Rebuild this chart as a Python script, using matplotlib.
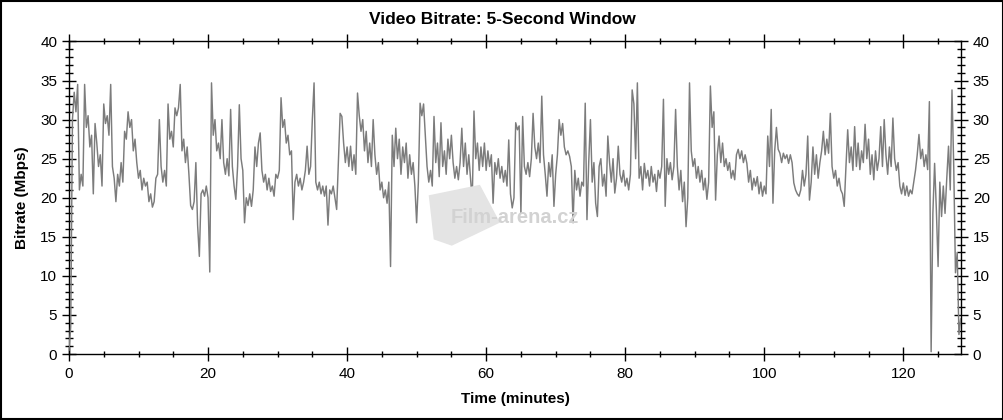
import numpy as np
from matplotlib import pyplot as plt
from matplotlib.patches import Rectangle, Polygon
from matplotlib.ticker import MultipleLocator

plt.rcParams['font.family'] = ['Liberation Sans', 'DejaVu Sans']

# bitrate (Mbps), one value every quarter minute from t = 0 (one row = 5 minutes)
mbps = [
    0.5, 3.5, 30.0, 33.5, 31.0, 34.5, 21.0, 23.0, 21.5, 34.5, 29.0, 30.5, 26.5, 28.0, 20.5, 29.5, 27.0, 24.0, 25.5, 21.5,
    32.0, 29.5, 30.5, 28.0, 34.5, 24.0, 22.5, 19.5, 23.0, 21.5, 24.5, 22.0, 28.5, 27.5, 31.0, 29.0, 30.0, 26.0, 27.5, 24.5,
    22.5, 23.5, 21.0, 22.5, 21.5, 22.0, 19.5, 20.5, 18.8, 19.5, 22.5, 23.0, 30.0, 24.0, 22.0, 23.5, 21.5, 32.0, 27.5, 28.5,
    26.5, 31.5, 30.5, 31.5, 34.5, 26.0, 27.5, 24.5, 26.5, 23.0, 19.0, 18.5, 19.5, 24.5, 16.5, 12.5, 20.5, 21.0, 20.2, 21.5,
    20.0, 10.5, 34.7, 28.0, 30.0, 26.0, 27.0, 25.0, 30.0, 24.5, 23.0, 25.0, 22.8, 31.3, 24.0, 21.5, 19.8, 24.0, 31.9, 25.0,
    23.5, 16.8, 20.0, 19.0, 20.5, 18.9, 21.0, 26.5, 24.0, 27.0, 28.3, 23.5, 22.0, 23.0, 21.0, 22.5, 20.8, 21.5, 20.2, 23.0,
    22.5, 23.5, 32.8, 29.0, 30.0, 27.0, 28.0, 25.5, 26.0, 17.2, 22.0, 23.0, 21.5, 22.5, 21.0, 22.0, 23.5, 26.6, 23.0, 24.0,
    30.0, 34.7, 22.0, 21.0, 22.0, 20.5, 21.5, 20.2, 21.5, 16.5, 21.0, 20.5, 21.5, 20.0, 18.5, 24.5, 30.8, 30.4, 27.0, 24.5,
    26.5, 24.0, 26.6, 23.5, 25.5, 23.0, 33.4, 30.5, 28.5, 30.0, 26.0, 28.5, 24.5, 27.0, 24.0, 30.0, 25.5, 23.0, 24.5, 21.0,
    22.0, 20.0, 21.0, 19.3, 22.0, 11.2, 28.0, 24.0, 28.9, 25.0, 27.5, 23.0, 26.5, 24.5, 27.0, 22.5, 25.5, 23.0, 24.5, 21.5,
    16.8, 22.0, 32.1, 30.5, 32.0, 28.0, 24.0, 22.0, 23.5, 21.5, 30.4, 24.5, 27.0, 22.7, 29.6, 24.0, 26.0, 23.0, 27.5, 25.0,
    28.0, 24.5, 22.5, 24.0, 22.3, 24.5, 28.9, 24.0, 27.0, 23.0, 25.5, 22.5, 19.7, 31.1, 25.0, 27.0, 23.5, 26.5, 24.0, 27.0,
    23.5, 26.0, 24.0, 25.5, 19.3, 24.5, 23.0, 25.0, 22.5, 24.0, 22.0, 23.5, 21.5, 27.4, 20.5, 18.7, 20.0, 29.6, 28.7, 29.2,
    18.0, 30.4, 24.0, 23.0, 24.5, 22.7, 25.0, 30.8, 26.5, 25.0, 27.0, 24.5, 33.0, 25.5, 23.0, 20.2, 24.5, 22.7, 25.5, 18.9,
    23.0, 25.5, 30.0, 28.0, 29.5, 26.5, 25.5, 26.0, 25.3, 24.0, 16.8, 23.5, 21.0, 22.5, 20.2, 22.0, 21.5, 32.1, 17.2, 24.5,
    30.0, 22.0, 24.5, 19.3, 17.6, 24.0, 25.0, 21.5, 23.0, 20.2, 27.9, 24.5, 22.0, 25.0, 20.6, 22.5, 26.6, 23.0, 22.0, 23.5,
    21.5, 22.5, 21.0, 23.0, 33.8, 32.0, 25.0, 34.7, 22.5, 24.0, 21.0, 24.4, 22.5, 23.5, 21.5, 24.0, 22.0, 23.0, 20.8, 23.5,
    22.5, 24.0, 32.6, 18.9, 25.0, 23.0, 24.5, 22.3, 24.0, 31.3, 24.0, 21.0, 23.5, 19.5, 22.0, 16.3, 20.0, 34.7, 26.0, 24.0,
    25.0, 22.5, 24.0, 22.0, 23.5, 21.0, 22.5, 19.8, 22.0, 34.3, 29.0, 31.0, 19.7, 25.5, 27.9, 24.5, 27.0, 24.0, 25.0, 23.5,
    24.5, 22.5, 23.5, 22.3, 25.5, 26.2, 25.0, 26.0, 24.5, 25.5, 24.4, 22.0, 23.5, 21.0, 22.5, 21.5, 22.7, 20.5, 22.0, 20.2,
    21.5, 20.5, 27.9, 24.0, 31.3, 19.3, 26.0, 29.0, 26.2, 25.7, 24.5, 25.7, 25.0, 25.5, 24.4, 25.5, 24.5, 21.9, 21.0, 20.5,
    20.2, 21.0, 23.5, 21.5, 23.0, 27.9, 19.7, 22.0, 26.5, 23.0, 25.5, 22.5, 24.5, 26.0, 28.5, 25.5, 27.5, 25.7, 30.8, 24.0,
    22.5, 23.5, 21.5, 22.5, 21.0, 20.5, 18.9, 24.0, 28.7, 24.5, 26.5, 23.5, 29.1, 24.0, 27.0, 23.6, 26.0, 24.5, 29.4, 25.0,
    27.5, 23.0, 25.5, 22.3, 26.0, 23.5, 25.0, 29.1, 24.0, 30.0, 25.5, 23.0, 26.5, 24.0, 30.2, 25.0, 23.5, 24.5, 21.5, 20.5,
    21.9, 20.3, 21.5, 20.2, 21.0, 20.5, 22.0, 23.5, 25.5, 28.1, 25.0, 26.2, 24.0, 25.5, 23.6, 32.3, 0.3, 18.0, 24.4, 18.5,
    11.2, 22.0, 17.6, 21.5, 18.0, 22.5, 26.6, 21.0, 33.8, 24.0, 10.4, 13.0, 2.5, 4.5,
]
menit = np.arange(len(mbps)) * 0.25

fig = plt.figure(figsize=(10.04, 4.2), dpi=100)
ax = fig.add_axes([0.0687, 0.157, 0.8885, 0.7443])

# watermark
fig.patches.append(Polygon([[0.427, 0.535], [0.478, 0.56], [0.498, 0.47], [0.45, 0.415], [0.432, 0.43]],
                           closed=True, transform=fig.transFigure, facecolor='#e4e4e4',
                           edgecolor='none', zorder=0))
fig.text(0.513, 0.482, 'Film-arena.cz', color='#d2d2d2', fontsize=14.5, fontweight='bold',
         ha='center', va='center', zorder=1)

ax.patch.set_alpha(0)
ax.plot(menit, mbps, color='#7c7c7c', linewidth=1.05, zorder=3)

ax.set_xlim(0, 128.3)
ax.set_ylim(0, 40)
ax.xaxis.set_major_locator(MultipleLocator(20))
ax.xaxis.set_minor_locator(MultipleLocator(5))
ax.yaxis.set_major_locator(MultipleLocator(5))
ax.yaxis.set_minor_locator(MultipleLocator(1))

ax.tick_params(axis='y', which='major', direction='inout', length=10, width=1,
               left=True, right=True, labelleft=True, labelright=True, labelsize=11)
ax.tick_params(axis='y', which='minor', direction='inout', length=6, width=1,
               left=True, right=True)
ax.tick_params(axis='x', which='major', direction='inout', length=10, width=1,
               top=True, bottom=True, labelsize=11, pad=4)
ax.tick_params(axis='x', which='minor', direction='inout', length=4, width=1,
               top=True, bottom=True)
for s in ax.spines.values():
    s.set_color('black')
    s.set_linewidth(1)

fig.text(0.5, 0.953, 'Video Bitrate: 5-Second Window', fontsize=12.5, fontweight='bold',
         ha='center', va='center')
ax.set_xlabel('Time (minutes)', fontsize=11, fontweight='bold', labelpad=8)
ax.set_ylabel('Bitrate (Mbps)', fontsize=11, fontweight='bold', labelpad=8)

fig.patches.append(Rectangle((0.001, 0.002), 0.998, 0.996, transform=fig.transFigure,
                             fill=False, edgecolor='black', linewidth=1.5))

plt.savefig('out.png', dpi=100)
